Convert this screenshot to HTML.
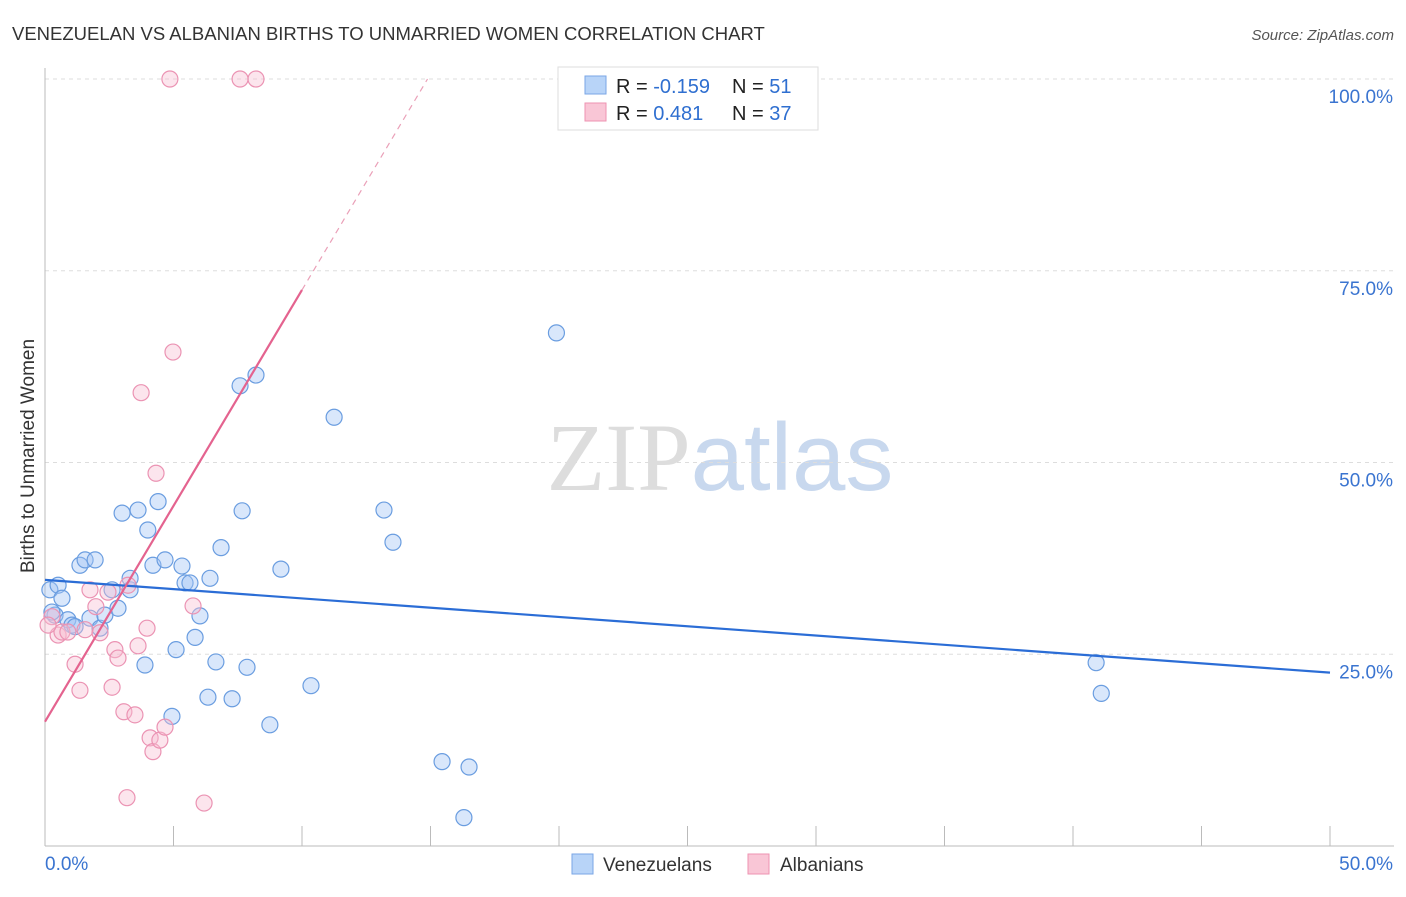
<!DOCTYPE html>
<html><head><meta charset="utf-8">
<style>
body{margin:0;background:#fff;font-family:"Liberation Sans",sans-serif;}
svg text{font-family:"Liberation Sans",sans-serif;}
</style></head>
<body>
<svg id="chart" width="1406" height="892" xmlns="http://www.w3.org/2000/svg">
<text x="12" y="40" font-size="18.5" fill="#333">VENEZUELAN VS ALBANIAN BIRTHS TO UNMARRIED WOMEN CORRELATION CHART</text>
<text x="1394" y="40" font-size="15" fill="#555" font-style="italic" text-anchor="end">Source: ZipAtlas.com</text>
<text x="720" y="490" font-size="96" text-anchor="middle"><tspan fill="#ddd" font-family="Liberation Serif">ZIP</tspan><tspan fill="#c8d8ee">atlas</tspan></text>
<g id="grid"></g>
<g id="axes"></g>
<g id="marks"></g>
<text transform="translate(34,456) rotate(-90)" font-size="19" fill="#333" text-anchor="middle">Births to Unmarried Women</text>
<g>
<rect x="558" y="67" width="260" height="63" fill="#fff" stroke="#ddd"/>
<rect x="585" y="76" width="21" height="18" fill="#b8d4f8" stroke="#7aa6e6"/>
<rect x="585" y="103" width="21" height="18" fill="#f9c6d6" stroke="#ee93b1"/>
<text x="616" y="93" font-size="20" fill="#222">R = <tspan fill="#2f6fd0">-0.159</tspan></text>
<text x="732" y="93" font-size="20" fill="#222">N = <tspan fill="#2f6fd0">51</tspan></text>
<text x="616" y="120" font-size="20" fill="#222">R = <tspan fill="#2f6fd0"> 0.481</tspan></text>
<text x="732" y="120" font-size="20" fill="#222">N = <tspan fill="#2f6fd0">37</tspan></text>
</g>
<g>
<rect x="572" y="854" width="21" height="20" fill="#b8d4f8" stroke="#7aa6e6"/>
<text x="603" y="871" font-size="19" fill="#333">Venezuelans</text>
<rect x="748" y="854" width="21" height="20" fill="#f9c6d6" stroke="#ee93b1"/>
<text x="780" y="871" font-size="19" fill="#333">Albanians</text>
</g>
</svg>
<script>
const blueX=[0.19,0.51,0.66,0.39,0.27,0.89,1.05,1.17,1.36,1.56,1.95,1.75,2.14,2.33,2.61,2.84,3.0,3.31,3.31,3.62,3.89,4.0,4.2,4.4,4.67,4.94,5.1,5.33,5.45,5.64,5.84,6.03,6.34,6.42,6.65,6.85,7.28,7.59,7.67,7.86,8.21,8.75,9.18,10.35,11.25,13.19,13.54,15.45,16.3,16.5,19.9,40.9,41.1];
const blueY=[33.4,34.0,32.3,30.1,30.5,29.5,28.8,28.6,36.6,37.3,37.3,29.7,28.4,30.1,33.4,31.0,43.4,33.4,34.9,43.8,23.6,41.2,36.6,44.9,37.3,16.9,25.6,36.5,34.3,34.3,27.2,30.0,19.4,34.9,24.0,38.9,19.2,60.0,43.7,23.3,61.4,15.8,36.1,20.9,55.9,43.8,39.6,11.0,3.7,10.3,66.9,23.9,19.9];
const pinkX=[4.86,7.59,8.21,4.98,3.74,4.32,0.27,0.51,0.66,0.89,1.17,1.36,1.56,1.75,1.98,2.14,2.45,2.61,2.72,2.84,3.07,3.23,3.5,3.62,3.97,4.09,4.2,4.47,4.67,5.76,3.19,6.19,0.12];
const pinkY=[100,100,100,64.4,59.1,48.6,29.9,27.5,27.9,27.9,23.7,20.3,28.2,33.4,31.2,27.8,33.1,20.7,25.6,24.5,17.5,34.0,17.1,26.1,28.4,14.1,12.3,13.8,15.5,31.3,6.3,5.6,28.8];
const yTicks=[25,50,75,100];
const yTickLabels=["25.0%","50.0%","75.0%","100.0%"];
const blueTrend=[34.7,22.6];
const pinkTrend=[16.2,72.5];
const NS="http://www.w3.org/2000/svg";
const sx=v=>45+v*25.7, sy=v=>846-v*7.67;
function mk(tag,attrs,parent){const e=document.createElementNS(NS,tag);for(const k in attrs)e.setAttribute(k,attrs[k]);document.getElementById(parent).appendChild(e);return e;}
yTicks.forEach((t,i)=>{
 const g=mk('line',{x1:45,x2:1394,y1:sy(t),y2:sy(t),stroke:'#ddd','stroke-dasharray':'4,4'},'grid');
 
 
 const tx=mk('text',{x:1393,y:sy(t)+24,'font-size':19,fill:'#3a74d0','text-anchor':'end'},'axes');
 tx.textContent=yTickLabels[i];
 
 
});
const ax=mk('line',{x1:45,x2:45,y1:68,y2:846,stroke:'#bbb'},'axes');


const bx=mk('line',{x1:45,x2:1394,y1:846,y2:846,stroke:'#bbb'},'axes');


for(let i=0;i<=10;i++){const t=mk('line',{x1:sx(i*5),x2:sx(i*5),y1:826,y2:846,stroke:'#bbb'},'axes');
 
 }
const l0=mk('text',{x:45,y:870,'font-size':19,fill:'#3a74d0'},'axes');l0.textContent='0.0%';


const l1=mk('text',{x:1393,y:870,'font-size':19,fill:'#3a74d0','text-anchor':'end'},'axes');l1.textContent='50.0%';


blueX.forEach((x,i)=>{const c=mk('circle',{cx:sx(x),cy:sy(blueY[i]),r:8,fill:'rgba(160,196,245,0.4)',stroke:'#6a9de0','stroke-width':1.2},'marks');
 
 });
pinkX.forEach((x,i)=>{const c=mk('circle',{cx:sx(x),cy:sy(pinkY[i]),r:8,fill:'rgba(248,190,210,0.4)',stroke:'#eb93b3','stroke-width':1.2},'marks');
 
 });
const bt=mk('line',{x1:sx(0),y1:sy(blueTrend[0]),x2:sx(50),y2:sy(blueTrend[1]),stroke:'#2b6dd6','stroke-width':2.2},'marks');


const slope=(pinkTrend[1]-pinkTrend[0])/10;
const pt=mk('line',{x1:sx(0),y1:sy(pinkTrend[0]),x2:sx(10),y2:sy(pinkTrend[1]),stroke:'#e4638f','stroke-width':2.2},'marks');


const xEnd=(100-pinkTrend[0])/slope;
const pd=mk('line',{x1:sx(10),y1:sy(pinkTrend[1]),x2:sx(xEnd),y2:sy(100),stroke:'#eaa0b8','stroke-width':1.2,'stroke-dasharray':'6,5'},'marks');


</script>
</body></html>
